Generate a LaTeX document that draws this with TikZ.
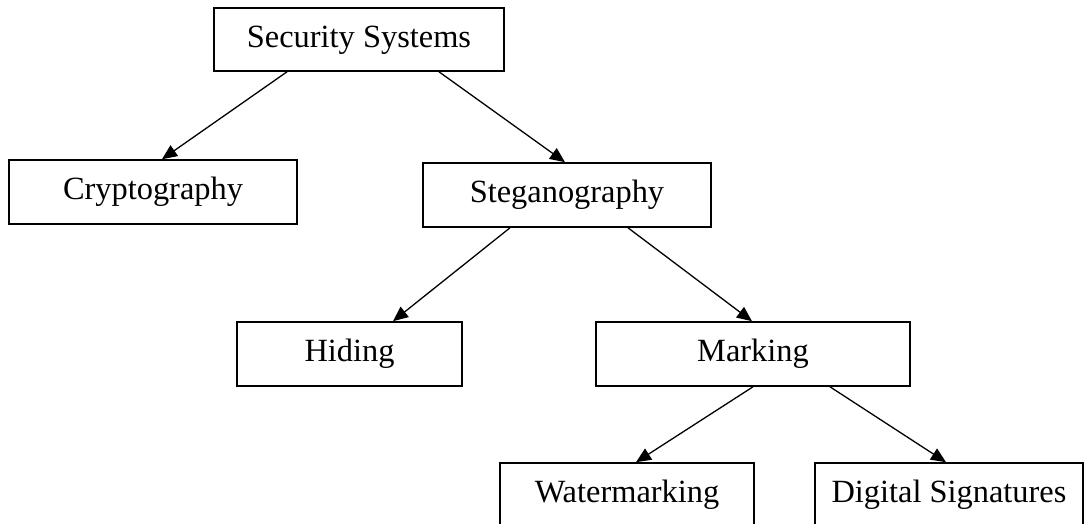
\documentclass[tikz,border=0pt]{standalone}
\usepackage{fontspec}
\setmainfont{Liberation Serif}
\usetikzlibrary{arrows.meta}
\begin{document}
\begin{tikzpicture}[x=1pt,y=-1pt,
  box/.style={draw=black,line width=1.6pt,rectangle,inner sep=0pt,
    minimum height=64pt,font=\fontsize{32.4}{36}\selectfont,
    text height=22pt,text depth=7pt},
  link/.style={line width=1.3pt,-{Triangle[length=15pt,width=13pt]}}]
\useasboundingbox (0,0) rectangle (1084,523);
\node[box,minimum width=290pt,minimum height=63pt] (ss) at (359,39.5) {Security Systems};
\node[box,minimum width=288pt] (cr) at (153,192) {Cryptography};
\node[box,minimum width=288pt] (st) at (567,195) {Steganography};
\node[box,minimum width=225pt] (hi) at (349.5,354) {Hiding};
\node[box,minimum width=314pt] (mk) at (753,354) {Marking};
\node[box,minimum width=254pt] (wm) at (627,495) {Watermarking};
\node[box,minimum width=268pt] (ds) at (949,495) {Digital Signatures};
% connectors
\draw[link] ([xshift=-72pt]ss.south) -- ([xshift=9pt]cr.north);
\draw[link] ([xshift=80pt]ss.south) -- ([xshift=-2pt]st.north);
\draw[link] ([xshift=-57pt]st.south) -- ([xshift=43.5pt]hi.north);
\draw[link] ([xshift=61pt]st.south) -- ([xshift=-1pt]mk.north);
\draw[link] (mk.south) -- ([xshift=9pt]wm.north);
\draw[link] ([xshift=77pt]mk.south) -- ([xshift=-3pt]ds.north);
\end{tikzpicture}
\end{document}
